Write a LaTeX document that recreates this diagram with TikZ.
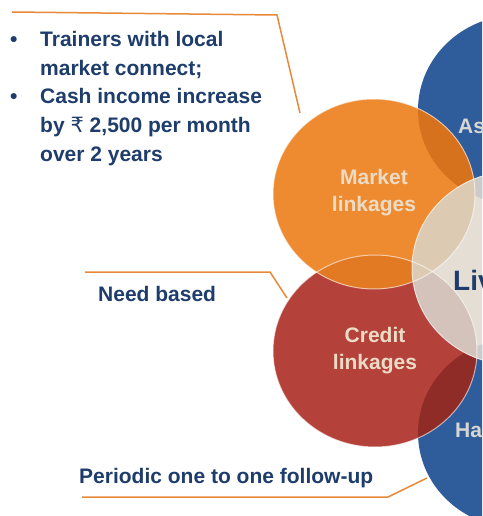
\documentclass[tikz,border=0pt]{standalone}
\usepackage{fontspec}
\setmainfont{Liberation Sans}
\newfontfamily\rupeefont{DejaVu Sans}
\definecolor{navy}{HTML}{1E3D6C}
\definecolor{calloutline}{HTML}{E8893A}
\definecolor{mktorange}{HTML}{EE8B31}
\definecolor{mktdark}{HTML}{D6721E}
\definecolor{mktoverred}{HTML}{E27A24}
\definecolor{crdred}{HTML}{B5413B}
\definecolor{crddark}{HTML}{8F2C28}
\definecolor{sideblue}{HTML}{2F5D9B}
\definecolor{corebeige}{HTML}{E4DED5}
\definecolor{corebyorange}{HTML}{DCCAB3}
\definecolor{corebyred}{HTML}{D3C3BA}
\definecolor{corebyblue}{HTML}{CDCBC7}
\definecolor{ringlabel}{HTML}{ECDCC6}
\definecolor{sidelabel}{HTML}{D8D6D2}
\begin{document}
\begin{tikzpicture}[x=1pt,y=-1pt,
  ringM/.style={insert path={(374,194) ellipse [x radius=101pt, y radius=95pt]}},
  ringC/.style={insert path={(375,351) ellipse [x radius=102pt, y radius=96pt]}},
  ringA/.style={insert path={(518,110) ellipse [x radius=100pt, y radius=95pt]}},
  ringH/.style={insert path={(518,433) ellipse [x radius=100pt, y radius=95pt]}},
  ringL/.style={insert path={(515,268) ellipse [x radius=103pt, y radius=97pt]}},
  callout/.style={draw=calloutline, line width=1.5pt},
  navytext/.style={font=\fontsize{21}{25}\selectfont\bfseries, text=navy,
    inner sep=0pt, anchor=base west},
  ringtext/.style={font=\fontsize{21}{27}\selectfont\bfseries, text=ringlabel,
    align=center, inner sep=0pt},
  rim/.style={draw=white, draw opacity=0.6, line width=1pt}]

\clip (0,0) rectangle (482,516);
\fill[white] (0,0) rectangle (482,516);

% base discs
\fill[sideblue, ringA];
\fill[sideblue, ringH];
\fill[crdred, ringC];
\fill[mktorange, ringM];

% overlaps among the outer discs
\begin{scope}\clip[ringM]; \fill[mktdark, ringA];\end{scope}
\begin{scope}\clip[ringM]; \fill[mktoverred, ringC];\end{scope}
\begin{scope}\clip[ringC]; \fill[crddark, ringH];\end{scope}

% central disc and its overlaps
\fill[corebeige, ringL];
\begin{scope}\clip[ringL]; \fill[corebyblue, ringA];\end{scope}
\begin{scope}\clip[ringL]; \fill[corebyblue, ringH];\end{scope}
\begin{scope}\clip[ringL]; \fill[corebyred, ringC];\end{scope}
\begin{scope}\clip[ringL]; \fill[corebyorange, ringM];\end{scope}

% light rims
\path[rim, ringC];
\path[rim, ringM];
\path[rim, ringL];

% labels inside the discs
\node[ringtext] (mkt) at (374,193) {Market\\linkages};
\node[ringtext] (crd) at (375,350.5) {Credit\\linkages};
\node[navytext, text=sidelabel] (ast) at (458,133) {As};
\node[navytext, font=\fontsize{28}{30}\selectfont\bfseries] (liv) at (453,290) {Liv};
\node[navytext, text=sidelabel] (hnd) at (455,437) {Ha};

% bullet list
\node[navytext] (b1) at (10,46.5) {•};
\node[navytext] (l1) at (40,46.5) {Trainers with local};
\node[navytext] (l2) at (40,75.2) {market connect;};
\node[navytext] (b2) at (10,103.9) {•};
\node[navytext] (l3) at (40,103.9) {Cash income increase};
\node[navytext] (l4) at (40,132.6) {by {\rupeefont\mdseries ₹} 2,500 per month};
\node[navytext] (l5) at (40,161.3) {over 2 years};

\node[navytext] (need) at (98,301.5) {Need based};
\node[navytext] (follow) at (79,483) {Periodic one to one follow-up};

% callout lines
\coordinate (p1) at (12,12);
\coordinate (p2) at (277,15);
\coordinate (p3) at (300,113);
\coordinate (q1) at (85,272);
\coordinate (q2) at (270,272);
\coordinate (q3) at (287,298);
\coordinate (r1) at (82,497);
\coordinate (r2) at (388,497);
\coordinate (r3) at (427,478);
\draw[callout] (p1) -- (p2) -- (p3);
\draw[callout] (q1) -- (q2) -- (q3);
\draw[callout] (r1) -- (r2) -- (r3);
\end{tikzpicture}
\end{document}
